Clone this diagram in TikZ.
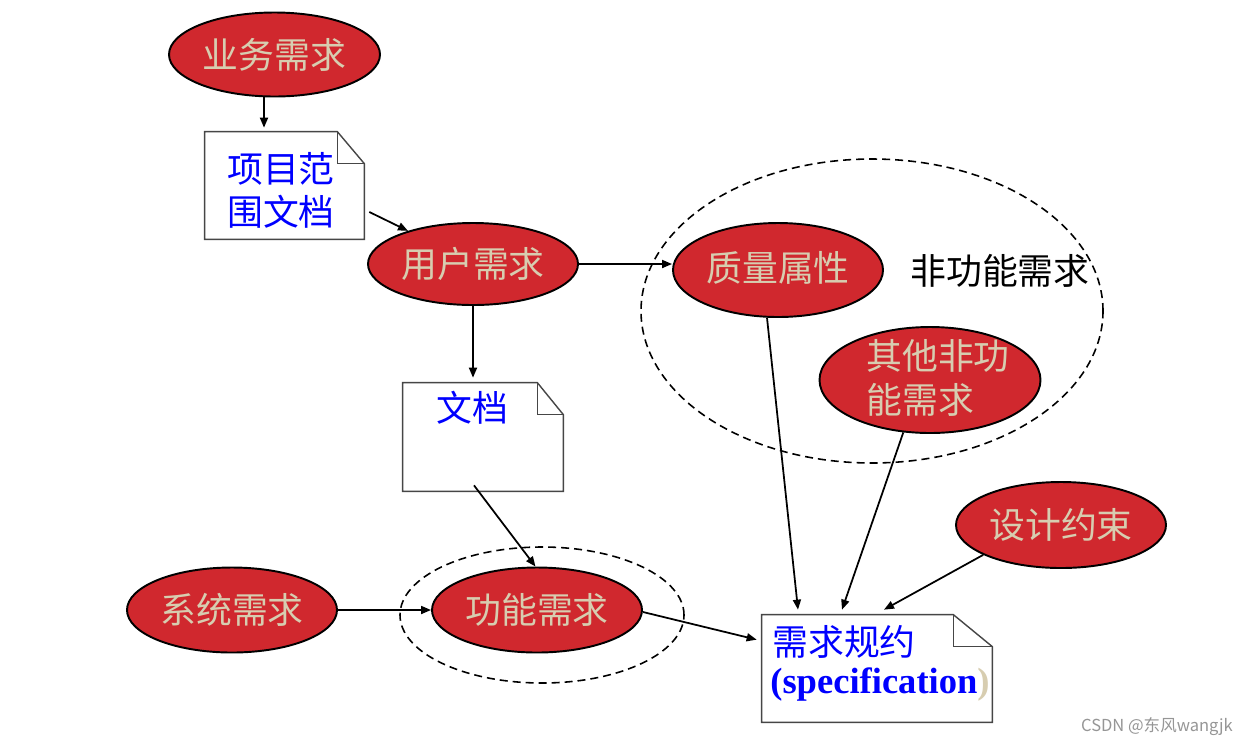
\documentclass[tikz,border=0pt]{standalone}
\usepackage{fontspec}
\setmainfont{Liberation Serif}
\newfontfamily\cjk{Noto Sans CJK SC}
\newfontfamily\wmfont{Noto Sans CJK SC}
\usetikzlibrary{shapes.geometric,arrows.meta}
\definecolor{ellred}{RGB}{208,40,46}
\definecolor{beige}{RGB}{215,205,176}
\definecolor{docgray}{RGB}{70,70,70}
\definecolor{wmgray}{RGB}{150,150,150}
\newcommand{\U}{0.02cm}
\tikzset{
  redell/.style={ellipse, draw=black, line width=1.1pt, fill=ellred, inner sep=0pt,
    text=beige, font=\cjk\fontsize{20.4}{25.5}\selectfont, align=left},
  elltext/.style={inner sep=0pt, text=beige, font=\cjk\fontsize{20.4}{25.5}\selectfont, align=left},
  docbox/.style={rectangle, inner sep=0pt},
  doctext/.style={text=blue, font=\cjk\fontsize{20.4}{24.4}\selectfont, inner sep=0pt, align=left},
  arr/.style={line width=1pt, -{Triangle[length=2mm,width=1.6mm]}},
  grp/.style={ellipse, draw=black, dashed, dash pattern=on 1.6mm off 1mm, line width=0.9pt, inner sep=0pt},
}
\newcommand{\docoutline}[3]{% name, fold x, fold y
  \draw[docgray, line width=0.8pt] (#1.south west) -- (#1.north west) -- ([xshift=-#2*\U]#1.north east)
    -- ([yshift=-#3*\U]#1.north east) -- (#1.south east) -- cycle;
  \draw[docgray, line width=0.8pt] ([xshift=-#2*\U]#1.north east) -- ([xshift=-#2*\U,yshift=-#3*\U]#1.north east)
    -- ([yshift=-#3*\U]#1.north east);
}
\begin{document}
\begin{tikzpicture}[x=0.02cm,y=-0.02cm]
\useasboundingbox[fill=white] (0,0) rectangle (1250,748);

% group ellipses
\node[grp, minimum width={462*\U}, minimum height={304*\U}] (nfgrp) at (872,311) {};
\node[grp, minimum width={284*\U}, minimum height={136*\U}] (fgrp) at (542,615) {};

% red ellipses
\node[redell, minimum width={211*\U}, minimum height={84*\U}] (ywxq) at (274.5,54.5) {业务需求};
\node[redell, minimum width={210*\U}, minimum height={82*\U}] (yhxq) at (473,264) {用户需求};
\node[redell, minimum width={210*\U}, minimum height={94*\U}] (zlsx) at (778,270) {\raisebox{0.14cm}{质量属性}};
\node[redell, minimum width={221*\U}, minimum height={106*\U}] (qt) at (930,380) {};
\node[elltext, anchor=west] (qtt) at (866,378) {其他非功\\能需求};
\node[redell, minimum width={210*\U}, minimum height={86*\U}] (sjys) at (1061,525) {设计约束};
\node[redell, minimum width={210*\U}, minimum height={85*\U}] (xtxq) at (232,610) {系统需求};
\node[redell, minimum width={210*\U}, minimum height={85*\U}] (gnxq) at (537,610) {功能需求};

\node[inner sep=0pt, font=\cjk\fontsize{20.4}{24}\selectfont] (nflabel) at (1000,271) {非功能需求};

% documents
\node[docbox, minimum width={159*\U}, minimum height={107*\U}] (d1) at (284.5,185.5) {};
\docoutline{d1}{27}{32}
\node[doctext] (d1t) at (281,190.5) {项目范\\围文档};

\node[docbox, minimum width={160*\U}, minimum height={108*\U}] (d2) at (483,437) {};
\docoutline{d2}{26}{32}
\node[doctext] (d2t) at (472,408) {文档};

\node[docbox, minimum width={230*\U}, minimum height={107*\U}] (d3) at (877,668.5) {};
\docoutline{d3}{39}{32}
\node[doctext, anchor=west] (d3a) at (772,642) {需求规约};
\node[inner sep=0pt, anchor=west, text=blue, font=\bfseries\fontsize{20.8}{24}\selectfont] (d3b) at (770,685) {(specification\textcolor{beige}{)}};

% connectors
\draw[arr] ([xshift=-10.5*\U]ywxq.south) -- ([xshift=-20.5*\U,yshift=4*\U]d1.north);
\draw[arr] ([xshift=5*\U,yshift=-26.5*\U]d1.east) -- (yhxq.153);
\draw[arr] (yhxq.east) -- (yhxq.east -| zlsx.west);
\draw[arr] (yhxq.south) -- ([xshift=-10*\U,yshift=5*\U]d2.north);
\draw[arr] ([xshift=-9*\U,yshift=6*\U]d2.south) -- (gnxq.92);
\draw[arr] (xtxq.east) -- (gnxq.west);
\draw[arr] ([yshift=-2*\U]gnxq.east) -- ([xshift=-5*\U,yshift=-25*\U]d3.north west);
\draw[arr] (zlsx.257) -- ([xshift=-79*\U,yshift=5*\U]d3.north);
\draw[arr] (qt.243) -- ([xshift=-35*\U,yshift=5*\U]d3.north);
\draw[arr] (sjys.201) -- ([xshift=7*\U,yshift=5*\U]d3.north);

% watermark
\node[inner sep=0pt, text=wmgray, font=\wmfont\fontsize{9.4}{11}\selectfont] (wm) at (1157,727) {CSDN @东风wangjk};
\end{tikzpicture}
\end{document}
